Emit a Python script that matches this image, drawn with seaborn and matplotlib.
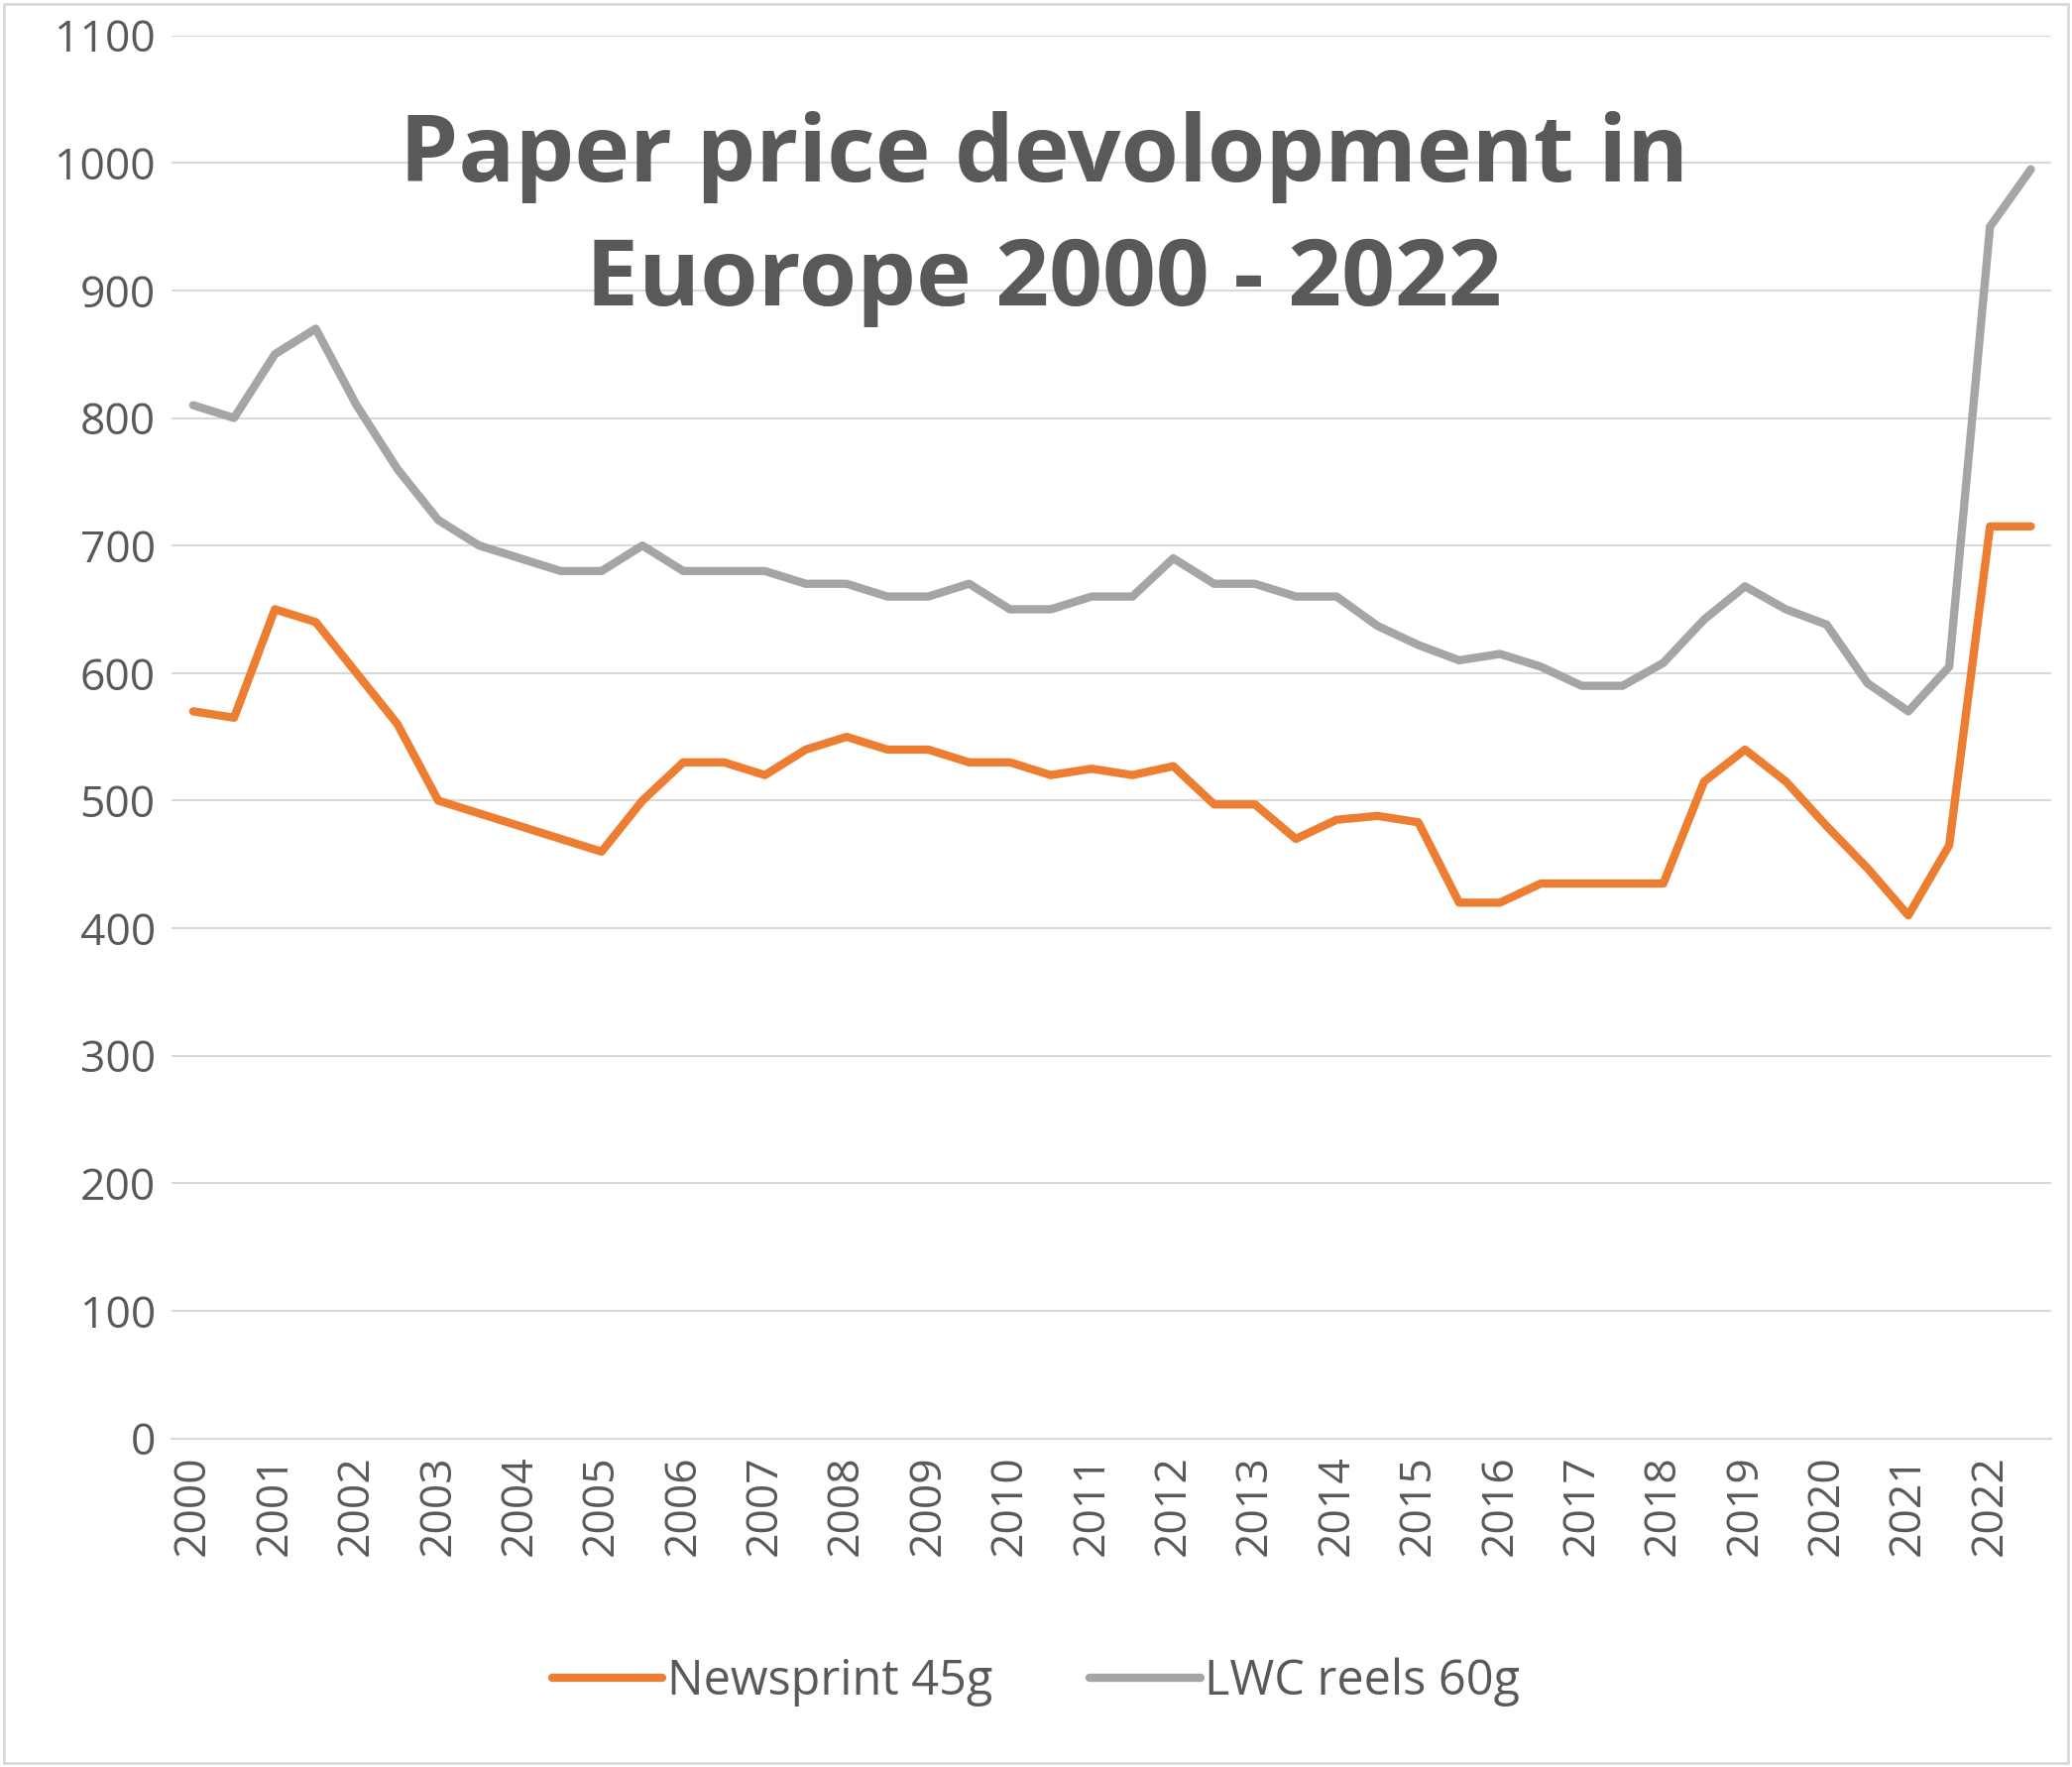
import matplotlib
matplotlib.use("Agg")
import matplotlib.pyplot as plt
import seaborn as sns
import pandas as pd
import numpy as np

sns.set_theme(style="white")
plt.rcParams['font.family'] = ['Open Sans', 'DejaVu Sans']

periods = [2000 + 0.5 * i for i in range(46)]
newsprint = [570, 565, 650, 640, 600, 560, 500, 490, 480, 470, 460, 500, 530, 530, 520, 540,
             550, 540, 540, 530, 530, 520, 525, 520, 527, 497, 497, 470, 485, 488, 483, 420,
             420, 435, 435, 435, 435, 515, 540, 515, 480, 447, 410, 465, 715, 715]
lwc = [810, 800, 850, 870, 810, 760, 720, 700, 690, 680, 680, 700, 680, 680, 680, 670,
       670, 660, 660, 670, 650, 650, 660, 660, 690, 670, 670, 660, 660, 637, 622, 610,
       615, 605, 590, 590, 608, 642, 668, 650, 638, 592, 570, 605, 950, 995]
years = list(range(2000, 2023))

df = pd.DataFrame({"x": periods * 2,
                   "v": newsprint + lwc,
                   "s": ["Newsprint 45g"] * 46 + ["LWC reels 60g"] * 46})

fig = plt.figure(figsize=(20.9, 17.82), dpi=100)
ax = fig.add_axes([0.083, 0.186, 0.907, 0.794])
sns.lineplot(data=df, x="x", y="v", hue="s", palette=["#ED7D31", "#A5A5A5"],
             linewidth=6, ax=ax, legend=True)
ax.set_xlim(1999.74, 2022.75)
ax.set_ylim(0, 1100)
ax.set_yticks(range(0, 1101, 100))
ax.set_xticks(years)
ax.set_xticklabels([str(y) for y in years], rotation=90)
ax.grid(axis="y", color="#D9D9D9", linewidth=1.5)
ax.tick_params(axis="both", colors="#595959", labelsize=32, length=0, pad=12)
for s in ["top", "right", "left"]:
    ax.spines[s].set_visible(False)
ax.spines["bottom"].set_color("#D9D9D9")
ax.spines["bottom"].set_linewidth(1.5)
ax.set_xlabel("")
ax.set_ylabel("")
ax.text(0.504, 0.876, "Paper price devolopment in\nEuorope 2000 - 2022", transform=fig.transFigure,
        ha="center", va="center", fontsize=68, fontweight="bold", color="#595959",
        linespacing=1.45)
ax.legend_.remove()
h, l = ax.get_legend_handles_labels()
fig.legend(h, l, loc="center", bbox_to_anchor=(0.5, 0.048), ncol=2, frameon=False,
           fontsize=35, labelcolor="#595959", handlelength=2.3, columnspacing=2.0,
           handletextpad=0.1)
fig.patches.append(plt.Rectangle((0.002, 0.002), 0.996, 0.996, transform=fig.transFigure,
                                 fill=False, edgecolor="#D9D9D9", linewidth=2))
fig.savefig("out.png", dpi=100, facecolor="white")
